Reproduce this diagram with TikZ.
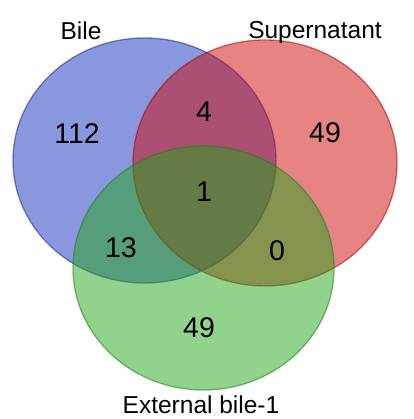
\documentclass[tikz,border=0pt]{standalone}
\usepackage{fontspec}
\setmainfont{Liberation Sans}
\definecolor{bilefill}{RGB}{20,50,190}
\definecolor{supfill}{RGB}{205,10,10}
\definecolor{extfill}{RGB}{35,165,25}
\tikzset{
  setlabel/.style={font=\fontsize{24.5}{27}\selectfont},
  count/.style={font=\fontsize{28.5}{31}\selectfont}
}
\begin{document}
\begin{tikzpicture}[x=1pt,y=-1pt]
  \useasboundingbox (0,0) rectangle (413,419);
  \coordinate (B) at (144.5,160.5); \coordinate (S) at (265,163); \coordinate (E) at (203.5,268);
  \fill[bilefill,fill opacity=0.5] (B) ellipse [x radius=131.5pt, y radius=122.5pt];
  \draw[bilefill!80!black,opacity=0.55,line width=1.3pt] (B) ellipse [x radius=131.5pt, y radius=122.5pt];
  \fill[supfill,fill opacity=0.5] (S) ellipse [x radius=132pt, y radius=123pt];
  \draw[supfill!80!black,opacity=0.55,line width=1.3pt] (S) ellipse [x radius=132pt, y radius=123pt];
  \fill[extfill,fill opacity=0.5] (E) ellipse [x radius=130.5pt, y radius=122pt];
  \draw[extfill!80!black,opacity=0.55,line width=1.3pt] (E) ellipse [x radius=130.5pt, y radius=122pt];
  \node[setlabel] (bile) at (81,31) {Bile};
  \node[setlabel] (sup) at (315,32) {Supernatant};
  \node[setlabel] (ext) at (201,405) {External bile-1};
  \node[count] (nb) at (77,134) {112}; \node[count] (nbs) at (204,112) {4};
  \node[count] (ns) at (325,133) {49}; \node[count] (nall) at (204,192) {1};
  \node[count] (nbe) at (121,248) {13}; \node[count] (nse) at (277,251) {0};
  \node[count] (ne) at (199,328) {49};
\end{tikzpicture}
\end{document}
